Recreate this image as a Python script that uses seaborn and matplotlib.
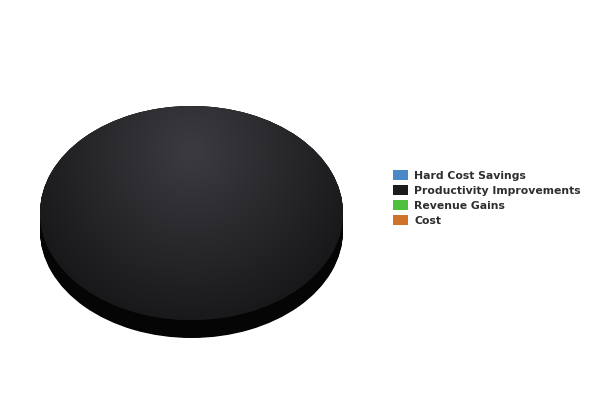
import numpy as np
import matplotlib
matplotlib.use("Agg")
import matplotlib.pyplot as plt
import seaborn as sns

# data
categories = ["Hard Cost Savings", "Productivity Improvements", "Revenue Gains", "Cost"]
values = [0, 100, 0, 0]
colors = ["#4a88c8", "#1c1c1e", "#4fbf3e", "#d0732a"]
side_colors = ["#2a5580", "#050505", "#2f7a25", "#7a4215"]

sns.set_theme(style="white")
plt.rcParams['font.family'] = ['DejaVu Sans']

fig = plt.figure(figsize=(6, 4), dpi=100)
# axes placed so that x in [-1,1] -> px 40..343, y=1 -> px 106, y=-1 -> px 320
ax = fig.add_axes([40 / 600, (400 - 345) / 400, 303 / 600, 245 / 400])

depth = 18 / 107
# side of the 3d disc, stacked layers
for d in np.linspace(depth, 0, 25):
    ax.pie(values, colors=side_colors, center=(0, -d), radius=1, startangle=90,
           counterclock=False, wedgeprops=dict(linewidth=0))

wedges, _ = ax.pie(values, colors=colors, center=(0, 0), radius=1, startangle=90,
                   counterclock=False, wedgeprops=dict(linewidth=0))

# radial shading on top face
xx, yy = np.meshgrid(np.linspace(-1, 1, 400), np.linspace(-1, 1, 300))
r = np.sqrt((xx * 152) ** 2 + ((yy - 0.58) * 107) ** 2) / 180
r = np.clip(r, 0, 1)
for w, v in zip(wedges, values):
    if v == 0:
        continue
    c0 = np.array([0.235, 0.231, 0.25])
    c1 = np.array([0.09, 0.09, 0.10])
    img = c0[None, None, :] * (1 - r[..., None]) + c1[None, None, :] * r[..., None]
    im = ax.imshow(img, extent=[-1, 1, -1, 1], origin="lower", aspect="auto", zorder=3)
    im.set_clip_path(w)

ax.set_aspect("auto")
ax.set_xlim(-1, 1)
ax.set_ylim(-(345 - 213) / 107, (213 - 100) / 107)
ax.axis("off")

fig.legend(wedges, categories, loc="upper left", bbox_to_anchor=(393 / 600, 1 - 170 / 400),
           frameon=False, handlelength=1.4, handleheight=1.0,
           handletextpad=0.55, labelspacing=0.4, borderpad=0, borderaxespad=0,
           prop=dict(weight="bold", size=7.85))
for t in fig.legends[0].get_texts():
    t.set_color("#2e2e2e")

fig.savefig("out.png", dpi=100, facecolor="white")
